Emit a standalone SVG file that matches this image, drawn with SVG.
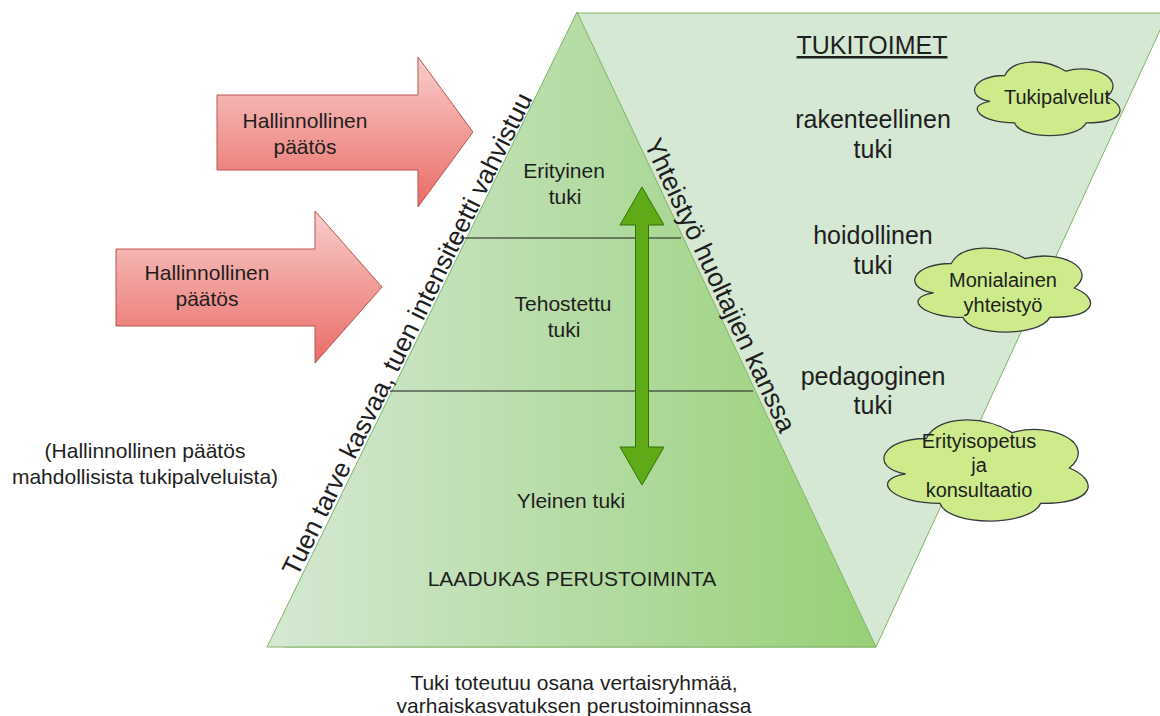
<svg xmlns="http://www.w3.org/2000/svg" width="1160" height="716" viewBox="0 0 1160 716">
<defs>
<linearGradient id="gTri" x1="0" y1="0" x2="1" y2="0">
<stop offset="0" stop-color="#d5e8d4"/>
<stop offset="1" stop-color="#97d077"/>
</linearGradient>
<linearGradient id="gRed" x1="0" y1="0" x2="0" y2="1">
<stop offset="0" stop-color="#f8cecc"/>
<stop offset="1" stop-color="#ea6b66"/>
</linearGradient>
<style>
text{font-family:"Liberation Sans",Arial,sans-serif;fill:#1e1e1e;}
.t21{font-size:21px;text-anchor:middle;}
.t20{font-size:20px;text-anchor:middle;}
.t25{font-size:25px;text-anchor:middle;}
.cloud{fill:#cdeb8b;stroke:#36393d;stroke-width:1.3;}
.red{fill:url(#gRed);stroke:#b85450;stroke-width:1;}
.lvl{stroke:#1a1a1a;stroke-width:1.2;}
</style>
</defs>
<rect width="1160" height="716" fill="#ffffff"/>

<g id="tukitoimet-panel">
<polygon points="577,13 1168,13 876,647 285,647" fill="#d5e8d4" stroke="#82b366" stroke-width="1"/>
</g>

<g id="pyramid">
<polygon points="577,12 267,647 876,647" fill="url(#gTri)" stroke="#82b366" stroke-width="1"/>
</g>

<g id="connectors">
<line class="lvl" x1="460" y1="238" x2="681" y2="238"/>
<line class="lvl" x1="390" y1="391" x2="753" y2="391"/>
<path id="intensity-arrow" d="M642,187 L664,225 L648.5,225 L648.5,447 L664,447 L642,485 L620,447 L635.5,447 L635.5,225 L620,225 Z" fill="#60a917" stroke="#2d7600" stroke-width="1"/>
</g>

<g id="arrow-1">
<path class="red" d="M217,95 L418,95 L418,57 L473,132 L418,207 L418,170 L217,170 Z"/>
<text class="t21" x="305" y="128">Hallinnollinen</text>
<text class="t21" x="305" y="154">päätös</text>
</g>

<g id="arrow-2">
<path class="red" d="M116,249 L315,249 L315,211 L382,287 L315,363 L315,326 L116,326 Z"/>
<text class="t21" x="207" y="280">Hallinnollinen</text>
<text class="t21" x="207" y="306">päätös</text>
</g>

<g id="note-left">
<text class="t21" x="145" y="458">(Hallinnollinen päätös</text>
<text class="t21" x="145" y="484">mahdollisista tukipalveluista)</text>
</g>

<g id="label-intensity">
<text x="415" y="338" transform="rotate(-63.8 415 338)" style="font-size:26px;text-anchor:middle;">Tuen tarve kasvaa, tuen intensiteetti vahvistuu</text>
</g>

<g id="label-cooperation">
<text x="712" y="289" transform="rotate(64.8 712 289)" style="font-size:26.5px;text-anchor:middle;">Yhteistyö huoltajien kanssa</text>
</g>

<g id="level-erityinen">
<text class="t21" x="564" y="178">Erityinen</text>
<text class="t21" x="565" y="204">tuki</text>
</g>

<g id="level-tehostettu">
<text class="t21" x="563" y="311">Tehostettu</text>
<text class="t21" x="564" y="337">tuki</text>
</g>

<g id="level-yleinen">
<text class="t21" x="571" y="508">Yleinen tuki</text>
</g>

<g id="level-perus">
<text class="t21" x="572" y="586">LAADUKAS PERUSTOIMINTA</text>
</g>

<g id="note-bottom">
<text class="t21" x="574" y="690">Tuki toteutuu osana vertaisryhmää,</text>
<text class="t21" x="574" y="713">varhaiskasvatuksen perustoiminnassa</text>
</g>

<g id="heading">
<text class="t25" x="872" y="54" text-decoration="underline">TUKITOIMET</text>
</g>

<g id="rakenteellinen">
<text class="t25" x="873" y="128">rakenteellinen</text>
<text class="t25" x="873" y="158">tuki</text>
</g>

<g id="hoidollinen">
<text class="t25" x="873" y="244">hoidollinen</text>
<text class="t25" x="873" y="274">tuki</text>
</g>

<g id="pedagoginen">
<text class="t25" x="873" y="385">pedagoginen</text>
<text class="t25" x="873" y="414">tuki</text>
</g>

<g id="cloud-tukipalvelut">
<path class="cloud" vector-effect="non-scaling-stroke" transform="translate(964,54) scale(1.63,0.86)" d="M25,25 C5,25 0,50 16,55 C0,60 10,80 31,80 C35,100 70,100 75,80 C100,80 100,60 87.5,50 C100,30 80,10 62.5,20 C50,5 30,5 25,25 Z"/>
<text class="t20" x="1057" y="104">Tukipalvelut</text>
</g>

<g id="cloud-monialainen">
<path class="cloud" vector-effect="non-scaling-stroke" transform="translate(902,239) scale(1.97,0.98)" d="M25,25 C5,25 0,50 16,55 C0,60 10,80 31,80 C35,100 70,100 75,80 C100,80 100,60 87.5,50 C100,30 80,10 62.5,20 C50,5 30,5 25,25 Z"/>
<text class="t20" x="1003" y="287">Monialainen</text>
<text class="t20" x="1003" y="312">yhteistyö</text>
</g>

<g id="cloud-erityisopetus">
<path class="cloud" vector-effect="non-scaling-stroke" transform="translate(869,409) scale(2.29,1.18)" d="M25,25 C5,25 0,50 16,55 C0,60 10,80 31,80 C35,100 70,100 75,80 C100,80 100,60 87.5,50 C100,30 80,10 62.5,20 C50,5 30,5 25,25 Z"/>
<text class="t20" x="979" y="448">Erityisopetus</text>
<text class="t20" x="979" y="472">ja</text>
<text class="t20" x="979" y="497">konsultaatio</text>
</g>
</svg>
